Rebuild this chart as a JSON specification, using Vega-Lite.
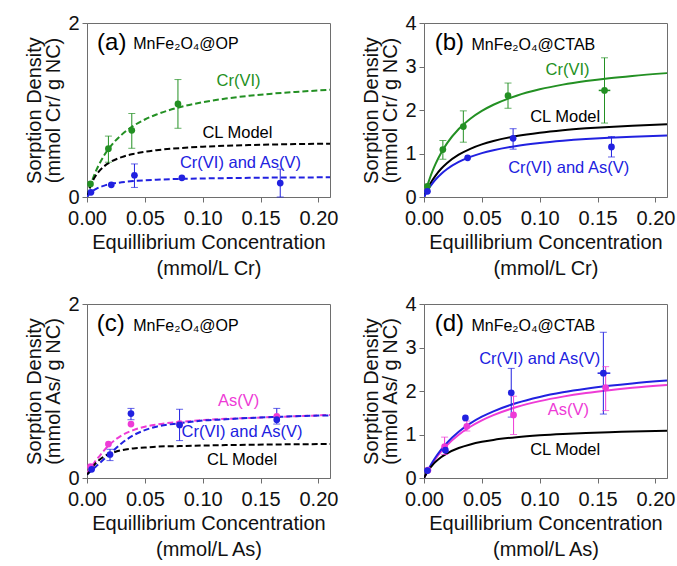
{
"$schema": "https://vega.github.io/schema/vega-lite/v6.json",
"background": "white",
"padding": {"left": 24, "top": 12, "right": 0, "bottom": 5},
"spacing": {"row": 14, "column": 22},
"columns": 2,
"datasets": {
"curves": [
{"p":"a","s":"Cr","x":0,"y":0},{"p":"a","s":"Cr","x":0.0025,"y":0.113},{"p":"a","s":"Cr","x":0.005,"y":0.209},{"p":"a","s":"Cr","x":0.0075,"y":0.291},{"p":"a","s":"Cr","x":0.01,"y":0.363},{"p":"a","s":"Cr","x":0.015,"y":0.482},{"p":"a","s":"Cr","x":0.02,"y":0.576},{"p":"a","s":"Cr","x":0.03,"y":0.717},{"p":"a","s":"Cr","x":0.04,"y":0.817},{"p":"a","s":"Cr","x":0.05,"y":0.891},{"p":"a","s":"Cr","x":0.06,"y":0.948},{"p":"a","s":"Cr","x":0.08,"y":1.032},{"p":"a","s":"Cr","x":0.1,"y":1.089},{"p":"a","s":"Cr","x":0.12,"y":1.131},{"p":"a","s":"Cr","x":0.14,"y":1.163},{"p":"a","s":"Cr","x":0.16,"y":1.188},{"p":"a","s":"Cr","x":0.18,"y":1.208},{"p":"a","s":"Cr","x":0.21,"y":1.232},
{"p":"a","s":"CL","x":0,"y":0},{"p":"a","s":"CL","x":0.0025,"y":0.108},{"p":"a","s":"CL","x":0.005,"y":0.186},{"p":"a","s":"CL","x":0.0075,"y":0.244},{"p":"a","s":"CL","x":0.01,"y":0.289},{"p":"a","s":"CL","x":0.015,"y":0.355},{"p":"a","s":"CL","x":0.02,"y":0.4},{"p":"a","s":"CL","x":0.03,"y":0.459},{"p":"a","s":"CL","x":0.04,"y":0.495},{"p":"a","s":"CL","x":0.05,"y":0.52},{"p":"a","s":"CL","x":0.06,"y":0.538},{"p":"a","s":"CL","x":0.08,"y":0.562},{"p":"a","s":"CL","x":0.1,"y":0.578},{"p":"a","s":"CL","x":0.12,"y":0.589},{"p":"a","s":"CL","x":0.14,"y":0.597},{"p":"a","s":"CL","x":0.16,"y":0.603},{"p":"a","s":"CL","x":0.18,"y":0.608},{"p":"a","s":"CL","x":0.21,"y":0.613},
{"p":"a","s":"CrAs","x":0,"y":0},{"p":"a","s":"CrAs","x":0.0025,"y":0.04},{"p":"a","s":"CrAs","x":0.005,"y":0.069},{"p":"a","s":"CrAs","x":0.0075,"y":0.09},{"p":"a","s":"CrAs","x":0.01,"y":0.107},{"p":"a","s":"CrAs","x":0.015,"y":0.131},{"p":"a","s":"CrAs","x":0.02,"y":0.148},{"p":"a","s":"CrAs","x":0.03,"y":0.169},{"p":"a","s":"CrAs","x":0.04,"y":0.183},{"p":"a","s":"CrAs","x":0.05,"y":0.192},{"p":"a","s":"CrAs","x":0.06,"y":0.199},{"p":"a","s":"CrAs","x":0.08,"y":0.208},{"p":"a","s":"CrAs","x":0.1,"y":0.213},{"p":"a","s":"CrAs","x":0.12,"y":0.217},{"p":"a","s":"CrAs","x":0.14,"y":0.22},{"p":"a","s":"CrAs","x":0.16,"y":0.223},{"p":"a","s":"CrAs","x":0.18,"y":0.224},{"p":"a","s":"CrAs","x":0.21,"y":0.227},
{"p":"b","s":"Cr","x":0,"y":0},{"p":"b","s":"Cr","x":0.0025,"y":0.23},{"p":"b","s":"Cr","x":0.005,"y":0.43},{"p":"b","s":"Cr","x":0.0075,"y":0.606},{"p":"b","s":"Cr","x":0.01,"y":0.762},{"p":"b","s":"Cr","x":0.015,"y":1.024},{"p":"b","s":"Cr","x":0.02,"y":1.238},{"p":"b","s":"Cr","x":0.03,"y":1.563},{"p":"b","s":"Cr","x":0.04,"y":1.8},{"p":"b","s":"Cr","x":0.05,"y":1.98},{"p":"b","s":"Cr","x":0.06,"y":2.121},{"p":"b","s":"Cr","x":0.08,"y":2.329},{"p":"b","s":"Cr","x":0.1,"y":2.475},{"p":"b","s":"Cr","x":0.12,"y":2.583},{"p":"b","s":"Cr","x":0.14,"y":2.665},{"p":"b","s":"Cr","x":0.16,"y":2.731},{"p":"b","s":"Cr","x":0.18,"y":2.784},{"p":"b","s":"Cr","x":0.21,"y":2.848},
{"p":"b","s":"CL","x":0,"y":0},{"p":"b","s":"CL","x":0.0025,"y":0.153},{"p":"b","s":"CL","x":0.005,"y":0.283},{"p":"b","s":"CL","x":0.0075,"y":0.395},{"p":"b","s":"CL","x":0.01,"y":0.493},{"p":"b","s":"CL","x":0.015,"y":0.654},{"p":"b","s":"CL","x":0.02,"y":0.782},{"p":"b","s":"CL","x":0.03,"y":0.973},{"p":"b","s":"CL","x":0.04,"y":1.108},{"p":"b","s":"CL","x":0.05,"y":1.209},{"p":"b","s":"CL","x":0.06,"y":1.287},{"p":"b","s":"CL","x":0.08,"y":1.4},{"p":"b","s":"CL","x":0.1,"y":1.478},{"p":"b","s":"CL","x":0.12,"y":1.535},{"p":"b","s":"CL","x":0.14,"y":1.578},{"p":"b","s":"CL","x":0.16,"y":1.612},{"p":"b","s":"CL","x":0.18,"y":1.64},{"p":"b","s":"CL","x":0.21,"y":1.672},
{"p":"b","s":"CrAs","x":0,"y":0},{"p":"b","s":"CrAs","x":0.0025,"y":0.123},{"p":"b","s":"CrAs","x":0.005,"y":0.229},{"p":"b","s":"CrAs","x":0.0075,"y":0.321},{"p":"b","s":"CrAs","x":0.01,"y":0.402},{"p":"b","s":"CrAs","x":0.015,"y":0.536},{"p":"b","s":"CrAs","x":0.02,"y":0.644},{"p":"b","s":"CrAs","x":0.03,"y":0.806},{"p":"b","s":"CrAs","x":0.04,"y":0.922},{"p":"b","s":"CrAs","x":0.05,"y":1.009},{"p":"b","s":"CrAs","x":0.06,"y":1.076},{"p":"b","s":"CrAs","x":0.08,"y":1.175},{"p":"b","s":"CrAs","x":0.1,"y":1.243},{"p":"b","s":"CrAs","x":0.12,"y":1.293},{"p":"b","s":"CrAs","x":0.14,"y":1.332},{"p":"b","s":"CrAs","x":0.16,"y":1.362},{"p":"b","s":"CrAs","x":0.18,"y":1.387},{"p":"b","s":"CrAs","x":0.21,"y":1.416},
{"p":"c","s":"As","x":0,"y":0.06},{"p":"c","s":"As","x":0.0025,"y":0.1},{"p":"c","s":"As","x":0.005,"y":0.15},{"p":"c","s":"As","x":0.0075,"y":0.2},{"p":"c","s":"As","x":0.01,"y":0.24},{"p":"c","s":"As","x":0.015,"y":0.32},{"p":"c","s":"As","x":0.02,"y":0.39},{"p":"c","s":"As","x":0.03,"y":0.49},{"p":"c","s":"As","x":0.04,"y":0.55},{"p":"c","s":"As","x":0.05,"y":0.59},{"p":"c","s":"As","x":0.06,"y":0.615},{"p":"c","s":"As","x":0.08,"y":0.645},{"p":"c","s":"As","x":0.1,"y":0.665},{"p":"c","s":"As","x":0.12,"y":0.68},{"p":"c","s":"As","x":0.14,"y":0.69},{"p":"c","s":"As","x":0.16,"y":0.7},{"p":"c","s":"As","x":0.18,"y":0.71},{"p":"c","s":"As","x":0.21,"y":0.725},
{"p":"c","s":"CrAs","x":0,"y":0.04},{"p":"c","s":"CrAs","x":0.0025,"y":0.07},{"p":"c","s":"CrAs","x":0.005,"y":0.1},{"p":"c","s":"CrAs","x":0.0075,"y":0.13},{"p":"c","s":"CrAs","x":0.01,"y":0.16},{"p":"c","s":"CrAs","x":0.015,"y":0.22},{"p":"c","s":"CrAs","x":0.02,"y":0.28},{"p":"c","s":"CrAs","x":0.03,"y":0.4},{"p":"c","s":"CrAs","x":0.04,"y":0.49},{"p":"c","s":"CrAs","x":0.05,"y":0.55},{"p":"c","s":"CrAs","x":0.06,"y":0.59},{"p":"c","s":"CrAs","x":0.08,"y":0.63},{"p":"c","s":"CrAs","x":0.1,"y":0.66},{"p":"c","s":"CrAs","x":0.12,"y":0.675},{"p":"c","s":"CrAs","x":0.14,"y":0.69},{"p":"c","s":"CrAs","x":0.16,"y":0.7},{"p":"c","s":"CrAs","x":0.18,"y":0.71},{"p":"c","s":"CrAs","x":0.21,"y":0.72},
{"p":"c","s":"CL","x":0,"y":0.04},{"p":"c","s":"CL","x":0.0025,"y":0.08},{"p":"c","s":"CL","x":0.005,"y":0.13},{"p":"c","s":"CL","x":0.0075,"y":0.17},{"p":"c","s":"CL","x":0.01,"y":0.2},{"p":"c","s":"CL","x":0.015,"y":0.25},{"p":"c","s":"CL","x":0.02,"y":0.28},{"p":"c","s":"CL","x":0.03,"y":0.32},{"p":"c","s":"CL","x":0.04,"y":0.34},{"p":"c","s":"CL","x":0.05,"y":0.35},{"p":"c","s":"CL","x":0.06,"y":0.36},{"p":"c","s":"CL","x":0.08,"y":0.367},{"p":"c","s":"CL","x":0.1,"y":0.373},{"p":"c","s":"CL","x":0.12,"y":0.378},{"p":"c","s":"CL","x":0.14,"y":0.382},{"p":"c","s":"CL","x":0.16,"y":0.385},{"p":"c","s":"CL","x":0.18,"y":0.388},{"p":"c","s":"CL","x":0.21,"y":0.39},
{"p":"d","s":"As","x":0,"y":0},{"p":"d","s":"As","x":0.0025,"y":0.126},{"p":"d","s":"As","x":0.005,"y":0.241},{"p":"d","s":"As","x":0.0075,"y":0.346},{"p":"d","s":"As","x":0.01,"y":0.442},{"p":"d","s":"As","x":0.015,"y":0.612},{"p":"d","s":"As","x":0.02,"y":0.757},{"p":"d","s":"As","x":0.03,"y":0.994},{"p":"d","s":"As","x":0.04,"y":1.178},{"p":"d","s":"As","x":0.05,"y":1.325},{"p":"d","s":"As","x":0.06,"y":1.445},{"p":"d","s":"As","x":0.08,"y":1.631},{"p":"d","s":"As","x":0.1,"y":1.767},{"p":"d","s":"As","x":0.12,"y":1.871},{"p":"d","s":"As","x":0.14,"y":1.953},{"p":"d","s":"As","x":0.16,"y":2.019},{"p":"d","s":"As","x":0.18,"y":2.074},{"p":"d","s":"As","x":0.21,"y":2.14},
{"p":"d","s":"CrAs","x":0,"y":0},{"p":"d","s":"CrAs","x":0.0025,"y":0.137},{"p":"d","s":"CrAs","x":0.005,"y":0.261},{"p":"d","s":"CrAs","x":0.0075,"y":0.374},{"p":"d","s":"CrAs","x":0.01,"y":0.477},{"p":"d","s":"CrAs","x":0.015,"y":0.659},{"p":"d","s":"CrAs","x":0.02,"y":0.813},{"p":"d","s":"CrAs","x":0.03,"y":1.063},{"p":"d","s":"CrAs","x":0.04,"y":1.255},{"p":"d","s":"CrAs","x":0.05,"y":1.409},{"p":"d","s":"CrAs","x":0.06,"y":1.533},{"p":"d","s":"CrAs","x":0.08,"y":1.724},{"p":"d","s":"CrAs","x":0.1,"y":1.863},{"p":"d","s":"CrAs","x":0.12,"y":1.969},{"p":"d","s":"CrAs","x":0.14,"y":2.052},{"p":"d","s":"CrAs","x":0.16,"y":2.119},{"p":"d","s":"CrAs","x":0.18,"y":2.175},{"p":"d","s":"CrAs","x":0.21,"y":2.242},
{"p":"d","s":"CL","x":0,"y":0},{"p":"d","s":"CL","x":0.0025,"y":0.121},{"p":"d","s":"CL","x":0.005,"y":0.22},{"p":"d","s":"CL","x":0.0075,"y":0.303},{"p":"d","s":"CL","x":0.01,"y":0.372},{"p":"d","s":"CL","x":0.015,"y":0.484},{"p":"d","s":"CL","x":0.02,"y":0.568},{"p":"d","s":"CL","x":0.03,"y":0.689},{"p":"d","s":"CL","x":0.04,"y":0.771},{"p":"d","s":"CL","x":0.05,"y":0.831},{"p":"d","s":"CL","x":0.06,"y":0.876},{"p":"d","s":"CL","x":0.08,"y":0.939},{"p":"d","s":"CL","x":0.1,"y":0.982},{"p":"d","s":"CL","x":0.12,"y":1.013},{"p":"d","s":"CL","x":0.14,"y":1.036},{"p":"d","s":"CL","x":0.16,"y":1.054},{"p":"d","s":"CL","x":0.18,"y":1.068},{"p":"d","s":"CL","x":0.21,"y":1.085}
],
"pts": [
{"p":"a","s":"Cr","x":0.003,"y":0.15},{"p":"a","s":"Cr","x":0.0185,"y":0.555},{"p":"a","s":"Cr","x":0.0387,"y":0.766},{"p":"a","s":"Cr","x":0.0786,"y":1.07},
{"p":"a","s":"CrAs","x":0.0034,"y":0.054},{"p":"a","s":"CrAs","x":0.021,"y":0.14},{"p":"a","s":"CrAs","x":0.041,"y":0.25},{"p":"a","s":"CrAs","x":0.082,"y":0.22},{"p":"a","s":"CrAs","x":0.167,"y":0.16},
{"p":"b","s":"Cr","x":0.0029,"y":0.245},{"p":"b","s":"Cr","x":0.0163,"y":1.09},{"p":"b","s":"Cr","x":0.034,"y":1.62},{"p":"b","s":"Cr","x":0.0726,"y":2.33},{"p":"b","s":"Cr","x":0.156,"y":2.45},
{"p":"b","s":"CrAs","x":0.003,"y":0.13},{"p":"b","s":"CrAs","x":0.0377,"y":0.9},{"p":"b","s":"CrAs","x":0.077,"y":1.35},{"p":"b","s":"CrAs","x":0.162,"y":1.15},
{"p":"c","s":"As","x":0.003,"y":0.13},{"p":"c","s":"As","x":0.0185,"y":0.39},{"p":"c","s":"As","x":0.038,"y":0.62},{"p":"c","s":"As","x":0.08,"y":0.625},{"p":"c","s":"As","x":0.164,"y":0.71},
{"p":"c","s":"CrAs","x":0.004,"y":0.1},{"p":"c","s":"CrAs","x":0.0199,"y":0.27},{"p":"c","s":"CrAs","x":0.038,"y":0.74},{"p":"c","s":"CrAs","x":0.08,"y":0.61},{"p":"c","s":"CrAs","x":0.164,"y":0.67},
{"p":"d","s":"As","x":0.0034,"y":0.18},{"p":"d","s":"As","x":0.0178,"y":0.72},{"p":"d","s":"As","x":0.037,"y":1.19},{"p":"d","s":"As","x":0.0774,"y":1.45},{"p":"d","s":"As","x":0.157,"y":2.08},
{"p":"d","s":"CrAs","x":0.003,"y":0.17},{"p":"d","s":"CrAs","x":0.0185,"y":0.64},{"p":"d","s":"CrAs","x":0.0358,"y":1.38},{"p":"d","s":"CrAs","x":0.0754,"y":1.96},{"p":"d","s":"CrAs","x":0.155,"y":2.41}
],
"errs": [
{"p":"a","s":"Cr","x":0.0185,"lo":0.4,"hi":0.7},{"p":"a","s":"Cr","x":0.0387,"lo":0.56,"hi":0.96},{"p":"a","s":"Cr","x":0.0786,"lo":0.79,"hi":1.35},
{"p":"a","s":"CrAs","x":0.041,"lo":0.11,"hi":0.38},{"p":"a","s":"CrAs","x":0.167,"lo":0.0,"hi":0.32},
{"p":"b","s":"Cr","x":0.0163,"lo":0.87,"hi":1.3},{"p":"b","s":"Cr","x":0.034,"lo":1.26,"hi":1.98},{"p":"b","s":"Cr","x":0.0726,"lo":2.04,"hi":2.62},{"p":"b","s":"Cr","x":0.156,"lo":1.7,"hi":3.2},
{"p":"b","s":"CrAs","x":0.077,"lo":1.1,"hi":1.57},{"p":"b","s":"CrAs","x":0.162,"lo":0.92,"hi":1.39},
{"p":"c","s":"CrAs","x":0.0199,"lo":0.2,"hi":0.33},{"p":"c","s":"CrAs","x":0.038,"lo":0.67,"hi":0.8},{"p":"c","s":"CrAs","x":0.08,"lo":0.43,"hi":0.79},{"p":"c","s":"CrAs","x":0.164,"lo":0.62,"hi":0.8},
{"p":"d","s":"As","x":0.0178,"lo":0.54,"hi":0.94},{"p":"d","s":"As","x":0.037,"lo":1.08,"hi":1.31},{"p":"d","s":"As","x":0.0774,"lo":1.0,"hi":1.88},{"p":"d","s":"As","x":0.157,"lo":1.55,"hi":2.56},
{"p":"d","s":"CrAs","x":0.0754,"lo":1.4,"hi":2.52},{"p":"d","s":"CrAs","x":0.155,"lo":1.47,"hi":3.35}
],
"xerrs": [
{"p":"b","s":"Cr","y":2.45,"xlo":0.151,"xhi":0.161},
{"p":"d","s":"CrAs","y":2.41,"xlo":0.15,"xhi":0.161}
],
"labels": [
{"p":"a","k":"L","s":"CL","t":"(a)","x":0.0087,"y":1.77},{"p":"a","k":"M","s":"CL","t":"MnFe₂O₄@OP","x":0.04,"y":1.76},
{"p":"a","k":"C","s":"Cr","t":"Cr(VI)","x":0.131,"y":1.33},{"p":"a","k":"C","s":"CL","t":"CL Model","x":0.13,"y":0.735},{"p":"a","k":"C","s":"CrAs","t":"Cr(VI) and As(V)","x":0.1326,"y":0.39},
{"p":"b","k":"L","s":"CL","t":"(b)","x":0.0093,"y":3.54},{"p":"b","k":"M","s":"CL","t":"MnFe₂O₄@CTAB","x":0.041,"y":3.5},
{"p":"b","k":"C","s":"Cr","t":"Cr(VI)","x":0.124,"y":2.91},{"p":"b","k":"C","s":"CL","t":"CL Model","x":0.122,"y":1.84},{"p":"b","k":"C","s":"CrAs","t":"Cr(VI) and As(V)","x":0.125,"y":0.67},
{"p":"c","k":"L","s":"CL","t":"(c)","x":0.0084,"y":1.77},{"p":"c","k":"M","s":"CL","t":"MnFe₂O₄@OP","x":0.04,"y":1.75},
{"p":"c","k":"C","s":"As","t":"As(V)","x":0.131,"y":0.88},{"p":"c","k":"C","s":"CrAs","t":"Cr(VI) and As(V)","x":0.134,"y":0.525},{"p":"c","k":"C","s":"CL","t":"CL Model","x":0.134,"y":0.207},
{"p":"d","k":"L","s":"CL","t":"(d)","x":0.0093,"y":3.54},{"p":"d","k":"M","s":"CL","t":"MnFe₂O₄@CTAB","x":0.041,"y":3.5},
{"p":"d","k":"C","s":"CrAs","t":"Cr(VI) and As(V)","x":0.1,"y":2.73},{"p":"d","k":"C","s":"As","t":"As(V)","x":0.1248,"y":1.56},{"p":"d","k":"C","s":"CL","t":"CL Model","x":0.122,"y":0.64}
]
},
"concat": [
{"width":243,"height":174,"layer":[
{"data":{"name":"curves"},"transform":[{"filter":"datum.p==='a'"}],"mark":{"type":"line","strokeWidth":2,"strokeDash":[6,3],"interpolate":"monotone","clip":true},
"encoding":{"x":{"field":"x","type":"quantitative","scale":{"domain":[0,0.21],"nice":false},"axis":{"values":[0,0.05,0.1,0.15,0.2],"format":".2f","title":["Equillibrium Concentration","(mmol/L Cr)"]}},
"y":{"field":"y","type":"quantitative","scale":{"domain":[0,2],"nice":false},"axis":{"values":[0,1,2],"format":"d","title":["Sorption Density","(mmol Cr/ g NC)"]}},
"color":{"field":"s","type":"nominal","scale":{"domain":["Cr","CrAs","As","CL"],"range":["#239023","#2121e0","#ee3bd6","#000000"]},"legend":null},"detail":{"field":"s"}}},
{"data":{"name":"errs"},"transform":[{"filter":"datum.p==='a'"}],"mark":{"type":"rule","strokeWidth":1},"encoding":{"x":{"field":"x","type":"quantitative"},"y":{"field":"lo","type":"quantitative"},"y2":{"field":"hi"},"color":{"field":"s","type":"nominal","legend":null}}},
{"data":{"name":"errs"},"transform":[{"filter":"datum.p==='a'"}],"mark":{"type":"tick","orient":"horizontal","size":7,"thickness":1},"encoding":{"x":{"field":"x","type":"quantitative"},"y":{"field":"lo","type":"quantitative"},"color":{"field":"s","type":"nominal","legend":null}}},
{"data":{"name":"errs"},"transform":[{"filter":"datum.p==='a'"}],"mark":{"type":"tick","orient":"horizontal","size":7,"thickness":1},"encoding":{"x":{"field":"x","type":"quantitative"},"y":{"field":"hi","type":"quantitative"},"color":{"field":"s","type":"nominal","legend":null}}},
{"data":{"name":"pts"},"transform":[{"filter":"datum.p==='a'"}],"mark":{"type":"circle","size":45,"opacity":1},"encoding":{"x":{"field":"x","type":"quantitative"},"y":{"field":"y","type":"quantitative"},"color":{"field":"s","type":"nominal","legend":null}}},
{"data":{"name":"labels"},"transform":[{"filter":"datum.p==='a' && datum.k==='C'"}],"mark":{"type":"text","fontSize":16.5,"align":"center","baseline":"middle"},"encoding":{"x":{"field":"x","type":"quantitative"},"y":{"field":"y","type":"quantitative"},"text":{"field":"t"},"color":{"field":"s","type":"nominal","legend":null}}},
{"data":{"name":"labels"},"transform":[{"filter":"datum.p==='a' && datum.k==='L'"}],"mark":{"type":"text","fontSize":24,"align":"left","baseline":"middle","color":"black"},"encoding":{"x":{"field":"x","type":"quantitative"},"y":{"field":"y","type":"quantitative"},"text":{"field":"t"}}},
{"data":{"name":"labels"},"transform":[{"filter":"datum.p==='a' && datum.k==='M'"}],"mark":{"type":"text","fontSize":16,"align":"left","baseline":"middle","color":"black"},"encoding":{"x":{"field":"x","type":"quantitative"},"y":{"field":"y","type":"quantitative"},"text":{"field":"t"}}}
]},
{"width":243,"height":174,"layer":[
{"data":{"name":"curves"},"transform":[{"filter":"datum.p==='b'"}],"mark":{"type":"line","strokeWidth":2,"interpolate":"monotone","clip":true},
"encoding":{"x":{"field":"x","type":"quantitative","scale":{"domain":[0,0.21],"nice":false},"axis":{"values":[0,0.05,0.1,0.15,0.2],"format":".2f","title":["Equillibrium Concentration","(mmol/L Cr)"]}},
"y":{"field":"y","type":"quantitative","scale":{"domain":[0,4],"nice":false},"axis":{"values":[0,1,2,3,4],"format":"d","title":["Sorption Density","(mmol Cr/ g NC)"]}},
"color":{"field":"s","type":"nominal","scale":{"domain":["Cr","CrAs","As","CL"],"range":["#239023","#2121e0","#ee3bd6","#000000"]},"legend":null},"detail":{"field":"s"}}},
{"data":{"name":"errs"},"transform":[{"filter":"datum.p==='b'"}],"mark":{"type":"rule","strokeWidth":1},"encoding":{"x":{"field":"x","type":"quantitative"},"y":{"field":"lo","type":"quantitative"},"y2":{"field":"hi"},"color":{"field":"s","type":"nominal","legend":null}}},
{"data":{"name":"errs"},"transform":[{"filter":"datum.p==='b'"}],"mark":{"type":"tick","orient":"horizontal","size":7,"thickness":1},"encoding":{"x":{"field":"x","type":"quantitative"},"y":{"field":"lo","type":"quantitative"},"color":{"field":"s","type":"nominal","legend":null}}},
{"data":{"name":"errs"},"transform":[{"filter":"datum.p==='b'"}],"mark":{"type":"tick","orient":"horizontal","size":7,"thickness":1},"encoding":{"x":{"field":"x","type":"quantitative"},"y":{"field":"hi","type":"quantitative"},"color":{"field":"s","type":"nominal","legend":null}}},
{"data":{"name":"xerrs"},"transform":[{"filter":"datum.p==='b'"}],"mark":{"type":"rule","strokeWidth":1.5},"encoding":{"x":{"field":"xlo","type":"quantitative"},"x2":{"field":"xhi"},"y":{"field":"y","type":"quantitative"},"color":{"field":"s","type":"nominal","legend":null}}},
{"data":{"name":"pts"},"transform":[{"filter":"datum.p==='b'"}],"mark":{"type":"circle","size":45,"opacity":1},"encoding":{"x":{"field":"x","type":"quantitative"},"y":{"field":"y","type":"quantitative"},"color":{"field":"s","type":"nominal","legend":null}}},
{"data":{"name":"labels"},"transform":[{"filter":"datum.p==='b' && datum.k==='C'"}],"mark":{"type":"text","fontSize":16.5,"align":"center","baseline":"middle"},"encoding":{"x":{"field":"x","type":"quantitative"},"y":{"field":"y","type":"quantitative"},"text":{"field":"t"},"color":{"field":"s","type":"nominal","legend":null}}},
{"data":{"name":"labels"},"transform":[{"filter":"datum.p==='b' && datum.k==='L'"}],"mark":{"type":"text","fontSize":24,"align":"left","baseline":"middle","color":"black"},"encoding":{"x":{"field":"x","type":"quantitative"},"y":{"field":"y","type":"quantitative"},"text":{"field":"t"}}},
{"data":{"name":"labels"},"transform":[{"filter":"datum.p==='b' && datum.k==='M'"}],"mark":{"type":"text","fontSize":16,"align":"left","baseline":"middle","color":"black"},"encoding":{"x":{"field":"x","type":"quantitative"},"y":{"field":"y","type":"quantitative"},"text":{"field":"t"}}}
]},
{"width":243,"height":174,"layer":[
{"data":{"name":"curves"},"transform":[{"filter":"datum.p==='c'"}],"mark":{"type":"line","strokeWidth":2,"strokeDash":[6,3],"interpolate":"monotone","clip":true},
"encoding":{"x":{"field":"x","type":"quantitative","scale":{"domain":[0,0.21],"nice":false},"axis":{"values":[0,0.05,0.1,0.15,0.2],"format":".2f","title":["Equillibrium Concentration","(mmol/L As)"]}},
"y":{"field":"y","type":"quantitative","scale":{"domain":[0,2],"nice":false},"axis":{"values":[0,1,2],"format":"d","title":["Sorption Density","(mmol As/ g NC)"]}},
"color":{"field":"s","type":"nominal","scale":{"domain":["Cr","CrAs","As","CL"],"range":["#239023","#2121e0","#ee3bd6","#000000"]},"legend":null},"detail":{"field":"s"}}},
{"data":{"name":"errs"},"transform":[{"filter":"datum.p==='c'"}],"mark":{"type":"rule","strokeWidth":1},"encoding":{"x":{"field":"x","type":"quantitative"},"y":{"field":"lo","type":"quantitative"},"y2":{"field":"hi"},"color":{"field":"s","type":"nominal","legend":null}}},
{"data":{"name":"errs"},"transform":[{"filter":"datum.p==='c'"}],"mark":{"type":"tick","orient":"horizontal","size":7,"thickness":1},"encoding":{"x":{"field":"x","type":"quantitative"},"y":{"field":"lo","type":"quantitative"},"color":{"field":"s","type":"nominal","legend":null}}},
{"data":{"name":"errs"},"transform":[{"filter":"datum.p==='c'"}],"mark":{"type":"tick","orient":"horizontal","size":7,"thickness":1},"encoding":{"x":{"field":"x","type":"quantitative"},"y":{"field":"hi","type":"quantitative"},"color":{"field":"s","type":"nominal","legend":null}}},
{"data":{"name":"pts"},"transform":[{"filter":"datum.p==='c'"}],"mark":{"type":"circle","size":45,"opacity":1},"encoding":{"x":{"field":"x","type":"quantitative"},"y":{"field":"y","type":"quantitative"},"color":{"field":"s","type":"nominal","legend":null}}},
{"data":{"name":"labels"},"transform":[{"filter":"datum.p==='c' && datum.k==='C'"}],"mark":{"type":"text","fontSize":16.5,"align":"center","baseline":"middle"},"encoding":{"x":{"field":"x","type":"quantitative"},"y":{"field":"y","type":"quantitative"},"text":{"field":"t"},"color":{"field":"s","type":"nominal","legend":null}}},
{"data":{"name":"labels"},"transform":[{"filter":"datum.p==='c' && datum.k==='L'"}],"mark":{"type":"text","fontSize":24,"align":"left","baseline":"middle","color":"black"},"encoding":{"x":{"field":"x","type":"quantitative"},"y":{"field":"y","type":"quantitative"},"text":{"field":"t"}}},
{"data":{"name":"labels"},"transform":[{"filter":"datum.p==='c' && datum.k==='M'"}],"mark":{"type":"text","fontSize":16,"align":"left","baseline":"middle","color":"black"},"encoding":{"x":{"field":"x","type":"quantitative"},"y":{"field":"y","type":"quantitative"},"text":{"field":"t"}}}
]},
{"width":243,"height":174,"layer":[
{"data":{"name":"curves"},"transform":[{"filter":"datum.p==='d'"}],"mark":{"type":"line","strokeWidth":2,"interpolate":"monotone","clip":true},
"encoding":{"x":{"field":"x","type":"quantitative","scale":{"domain":[0,0.21],"nice":false},"axis":{"values":[0,0.05,0.1,0.15,0.2],"format":".2f","title":["Equillibrium Concentration","(mmol/L As)"]}},
"y":{"field":"y","type":"quantitative","scale":{"domain":[0,4],"nice":false},"axis":{"values":[0,1,2,3,4],"format":"d","title":["Sorption Density","(mmol As/ g NC)"]}},
"color":{"field":"s","type":"nominal","scale":{"domain":["Cr","CrAs","As","CL"],"range":["#239023","#2121e0","#ee3bd6","#000000"]},"legend":null},"detail":{"field":"s"}}},
{"data":{"name":"errs"},"transform":[{"filter":"datum.p==='d'"}],"mark":{"type":"rule","strokeWidth":1},"encoding":{"x":{"field":"x","type":"quantitative"},"y":{"field":"lo","type":"quantitative"},"y2":{"field":"hi"},"color":{"field":"s","type":"nominal","legend":null}}},
{"data":{"name":"errs"},"transform":[{"filter":"datum.p==='d'"}],"mark":{"type":"tick","orient":"horizontal","size":7,"thickness":1},"encoding":{"x":{"field":"x","type":"quantitative"},"y":{"field":"lo","type":"quantitative"},"color":{"field":"s","type":"nominal","legend":null}}},
{"data":{"name":"errs"},"transform":[{"filter":"datum.p==='d'"}],"mark":{"type":"tick","orient":"horizontal","size":7,"thickness":1},"encoding":{"x":{"field":"x","type":"quantitative"},"y":{"field":"hi","type":"quantitative"},"color":{"field":"s","type":"nominal","legend":null}}},
{"data":{"name":"xerrs"},"transform":[{"filter":"datum.p==='d'"}],"mark":{"type":"rule","strokeWidth":1.5},"encoding":{"x":{"field":"xlo","type":"quantitative"},"x2":{"field":"xhi"},"y":{"field":"y","type":"quantitative"},"color":{"field":"s","type":"nominal","legend":null}}},
{"data":{"name":"pts"},"transform":[{"filter":"datum.p==='d'"}],"mark":{"type":"circle","size":45,"opacity":1},"encoding":{"x":{"field":"x","type":"quantitative"},"y":{"field":"y","type":"quantitative"},"color":{"field":"s","type":"nominal","legend":null}}},
{"data":{"name":"labels"},"transform":[{"filter":"datum.p==='d' && datum.k==='C'"}],"mark":{"type":"text","fontSize":16.5,"align":"center","baseline":"middle"},"encoding":{"x":{"field":"x","type":"quantitative"},"y":{"field":"y","type":"quantitative"},"text":{"field":"t"},"color":{"field":"s","type":"nominal","legend":null}}},
{"data":{"name":"labels"},"transform":[{"filter":"datum.p==='d' && datum.k==='L'"}],"mark":{"type":"text","fontSize":24,"align":"left","baseline":"middle","color":"black"},"encoding":{"x":{"field":"x","type":"quantitative"},"y":{"field":"y","type":"quantitative"},"text":{"field":"t"}}},
{"data":{"name":"labels"},"transform":[{"filter":"datum.p==='d' && datum.k==='M'"}],"mark":{"type":"text","fontSize":16,"align":"left","baseline":"middle","color":"black"},"encoding":{"x":{"field":"x","type":"quantitative"},"y":{"field":"y","type":"quantitative"},"text":{"field":"t"}}}
]}
],
"config": {
"font": "Liberation Sans",
"view": {"stroke": "#6e6e6e", "strokeWidth": 1},
"axis": {"labelFont": "Liberation Sans", "titleFont": "Liberation Sans", "labelFontSize": 20, "titleFontSize": 20, "titleFontWeight": "normal", "labelColor": "#111111", "titleColor": "#111111", "domainColor": "#6e6e6e", "tickColor": "#6e6e6e", "tickSize": 5, "grid": false},
"axisX": {"labelPadding": 6, "titlePadding": 4, "titleLineHeight": 26, "labelFlush": false, "labelOverlap": false},
"axisY": {"labelPadding": 3, "titlePadding": 4, "titleLineHeight": 19, "labelOverlap": false},
"text": {"font": "Liberation Sans"}
}
}
